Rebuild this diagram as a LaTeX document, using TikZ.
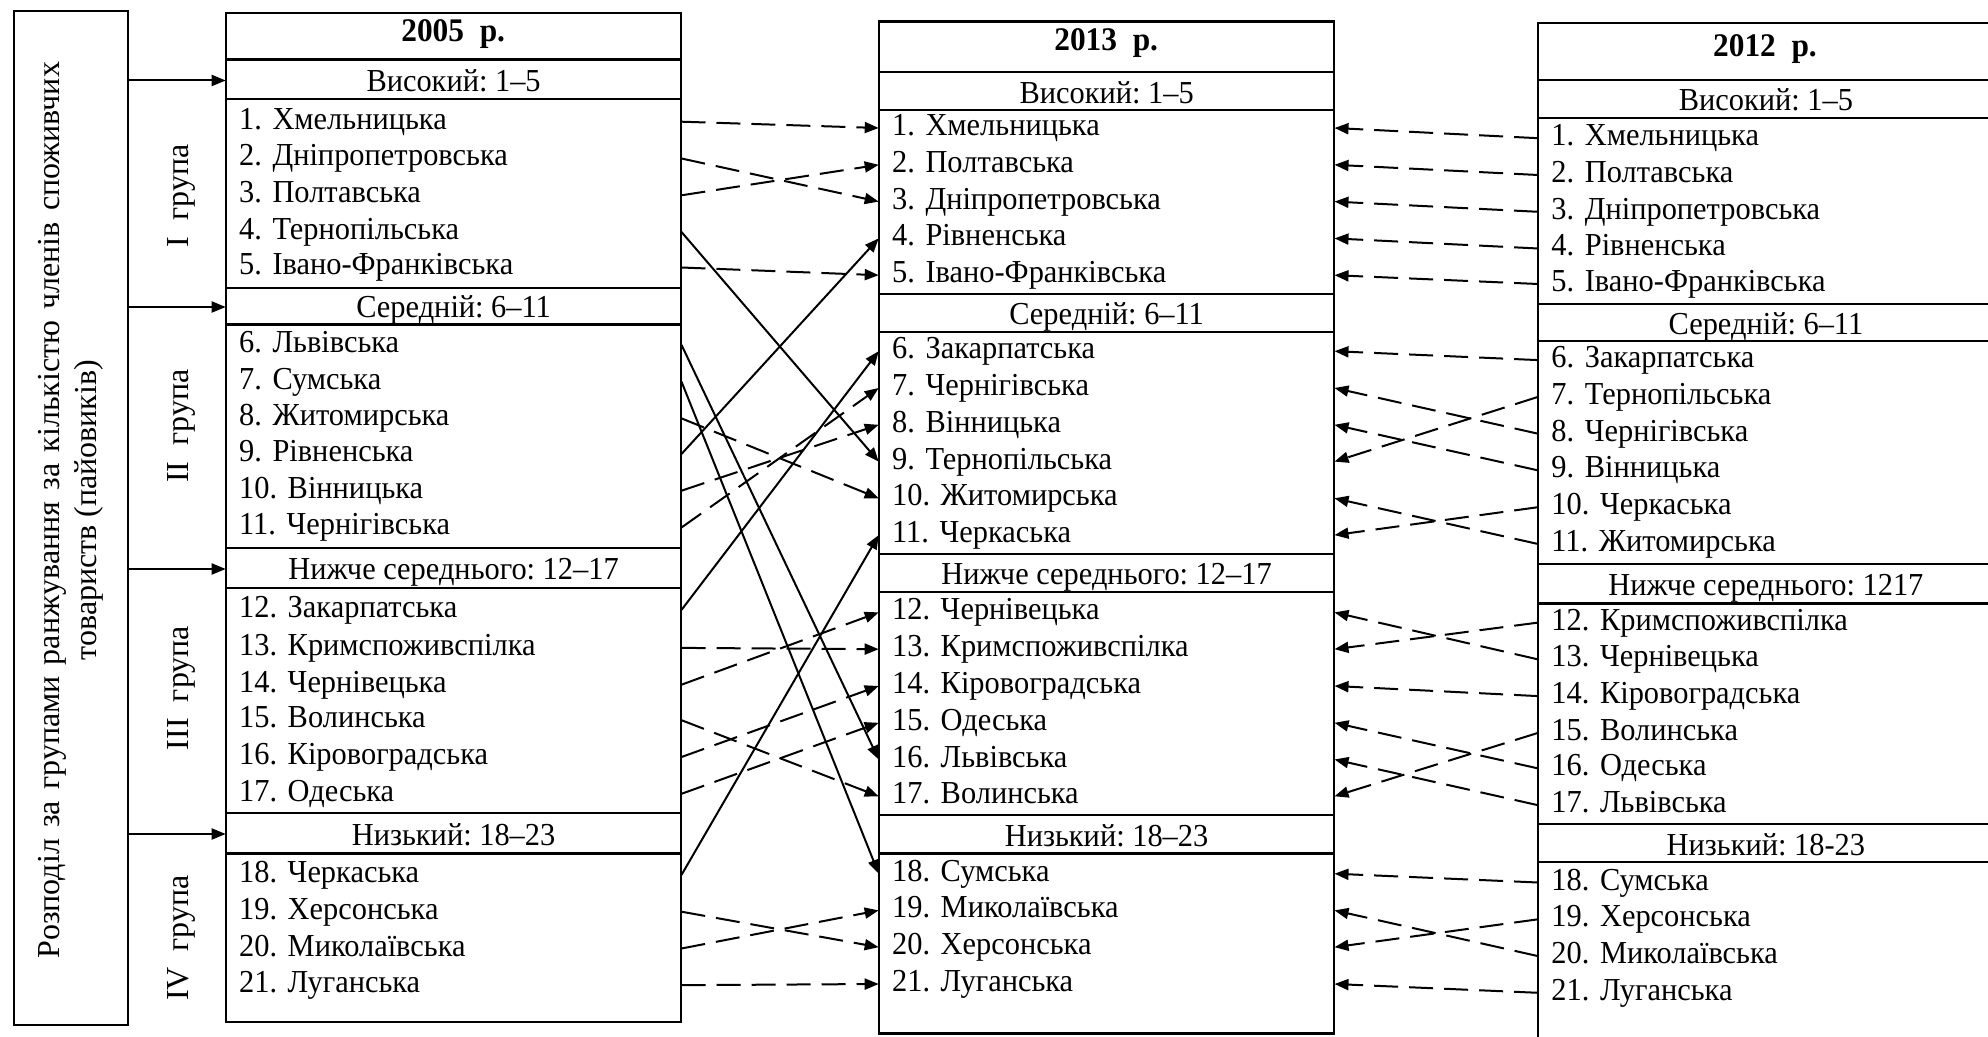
\documentclass[tikz,border=0pt]{standalone}
\usepackage{fontspec}
\setmainfont{Liberation Serif}[FakeStretch=0.95]
\newfontfamily\rotfont{Liberation Serif}
\usetikzlibrary{arrows.meta}
\frenchspacing
\tikzset{
  frame/.style={line width=1.1pt},
  itemrow/.style={anchor=west, inner xsep=6.5pt, inner ysep=0pt, text width=214.5pt, align=left, text height=11pt, text depth=3.5pt, font=\fontsize{16}{18}\selectfont},
  levelrow/.style={anchor=west, inner sep=0pt, minimum width=227.5pt, text height=11pt, text depth=0pt, font=\fontsize{16}{18}\selectfont},
  titlerow/.style={inner sep=0pt, font=\fontsize{16.5}{18}\selectfont\bfseries},
  grouplabel/.style={rotate=90, inner sep=0pt, font=\rotfont\fontsize{16}{18}\selectfont},
  conn/.style={line width=1pt, -{Triangle[length=7pt,width=5.5pt]}},
  dconn/.style={conn, dash pattern=on 12pt off 5.5pt},
}
\begin{document}
\begin{tikzpicture}[x=0.5pt,y=-0.5pt]
\useasboundingbox (0,0) rectangle (1988,1037);

% left box
\node[draw, frame, minimum width=57pt, minimum height=507pt, inner sep=0pt, anchor=north west] (lb) at (12.7,10) {};
\node[rotate=90, align=center, inner sep=0pt, font=\rotfont\fontsize{16}{18.5}\selectfont] (lbt) at (71,510)
  {\makebox[448pt][s]{Розподіл за групами ранжування за кількістю членів споживчих}\\товариств (пайовиків)};

% group labels
\node[grouplabel] (g1) at (181,196) {I\hspace{0.5em}група};
\node[grouplabel] (g2) at (181,426) {II\hspace{0.5em}група};
\node[grouplabel] (g3) at (181,688) {III\hspace{0.5em}група};
\node[grouplabel] (g4) at (181,938) {IV\hspace{0.5em}група};

% ===== 2005 box =====
\draw[frame] (225.7,12.7) rectangle (680.7,1022);
\foreach \yy in {59.6,98.9,287.8,324.6,547.8,588.4,812.8,853.4}
  \draw[frame] (225.7,\yy) -- (680.7,\yy);
\node[titlerow] (t05) at (453.2,34) {2005~~р.};
\node[levelrow] (l05a) at (225.7,80.5) {Високий: 1–5};
\node[levelrow] (l05b) at (225.7,307) {Середній: 6–11};
\node[levelrow] (l05c) at (225.7,569) {Нижче середнього: 12–17};
\node[levelrow] (l05d) at (225.7,834) {Низький: 18–23};
\foreach \i/\y/\t in {1/121.7/Хмельницька, 2/158.5/Дніпропетровська, 3/195.3/Полтавська, 4/232/Тернопільська, 5/267.5/Івано-Франківська,
  6/344.9/Львівська, 7/381.7/Сумська, 8/418.4/Житомирська, 9/454/Рівненська, 10/490.7/Вінницька, 11/527.5/Чернігівська,
  12/609.9/Закарпатська, 13/647.9/Кримспоживспілка, 14/684.7/Чернівецька, 15/720.2/Волинська, 16/757/Кіровоградська, 17/793.8/Одеська,
  18/874.9/Черкаська, 19/911.7/Херсонська, 20/948.5/Миколаївська, 21/985.2/Луганська}
  \node[itemrow] (a\i) at (225.7,\y) {\i.\ \t};

% ===== 2013 box =====
\draw[frame] (878.7,21.6) rectangle (1333.7,1033.5);
\foreach \yy in {72.3,110.3,294.2,332.2,554.1,592.2,815.3,853.4}
  \draw[frame] (878.7,\yy) -- (1333.7,\yy);
\node[titlerow] (t13) at (1106.2,43.5) {2013~~р.};
\node[levelrow] (l13a) at (878.7,92.5) {Високий: 1–5};
\node[levelrow] (l13b) at (878.7,314) {Середній: 6–11};
\node[levelrow] (l13c) at (878.7,574) {Нижче середнього: 12–17};
\node[levelrow] (l13d) at (878.7,835.5) {Низький: 18–23};
\foreach \i/\y/\t in {1/128/Хмельницька, 2/164.8/Полтавська, 3/201.6/Дніпропетровська, 4/238.4/Рівненська, 5/275.2/Івано-Франківська,
  6/351.2/Закарпатська, 7/388/Чернігівська, 8/424.8/Вінницька, 9/461.6/Тернопільська, 10/498.3/Житомирська, 11/535.1/Черкаська,
  12/612.4/Чернівецька, 13/649.2/Кримспоживспілка, 14/686/Кіровоградська, 15/722.8/Одеська, 16/759.5/Львівська, 17/796.3/Волинська,
  18/873.7/Сумська, 19/910.4/Миколаївська, 20/947.2/Херсонська, 21/984/Луганська}
  \node[itemrow] (b\i) at (878.7,\y) {\i.\ \t};

% ===== 2012 box =====
\draw[frame] (1538,1060) -- (1538,22.8) -- (1996,22.8);
\foreach \yy in {79.9,117.9,304.3,341.1,564.3,603.6,824.2,862.2}
  \draw[frame] (1538,\yy) -- (1996,\yy);
\node[titlerow] (t12) at (1765,49) {2012~~р.};
\node[levelrow] (l12a) at (1538,100) {Високий: 1–5};
\node[levelrow] (l12b) at (1538,323.5) {Середній: 6–11};
\node[levelrow] (l12c) at (1538,585) {Нижче середнього: 1217};
\node[levelrow] (l12d) at (1538,844) {Низький: 18-23};
\foreach \i/\y/\t in {1/138.2/Хмельницька, 2/175/Полтавська, 3/211.8/Дніпропетровська, 4/248.5/Рівненська, 5/284/Івано-Франківська,
  6/360.1/Закарпатська, 7/396.9/Тернопільська, 8/433.7/Чернігівська, 9/470.4/Вінницька, 10/507.2/Черкаська, 11/544/Житомирська,
  12/622.6/Кримспоживспілка, 13/659.4/Чернівецька, 14/696.1/Кіровоградська, 15/732.9/Волинська, 16/768.4/Одеська, 17/805.2/Львівська,
  18/882.5/Сумська, 19/919.3/Херсонська, 20/956.1/Миколаївська, 21/992.8/Луганська}
  \node[itemrow] (c\i) at (1538,\y) {\i.\ \t};

% arrows from left box to levels
\foreach \n in {l05a,l05b,l05c,l05d}
  \draw[conn] (lb.east |- \n.west) -- (\n.west);

% 2005 -> 2013
\foreach \s/\e in {1/1,2/3,3/2,5/5,8/10,10/8,11/7,13/13,14/12,15/17,16/14,17/15,19/20,20/19,21/21}
  \draw[dconn] (a\s.east) -- (b\e.west);
\foreach \s/\e in {4/9,6/16,7/18,9/4,12/6,18/11}
  \draw[conn] (a\s.east) -- (b\e.west);

% 2012 -> 2013
\foreach \s/\e in {1/1,2/2,3/3,4/4,5/5,6/6,7/9,8/7,9/8,10/11,11/10,12/13,13/12,14/14,15/17,16/15,17/16,18/18,19/20,20/19,21/21}
  \draw[dconn] (c\s.west) -- (b\e.east);
\end{tikzpicture}
\end{document}
